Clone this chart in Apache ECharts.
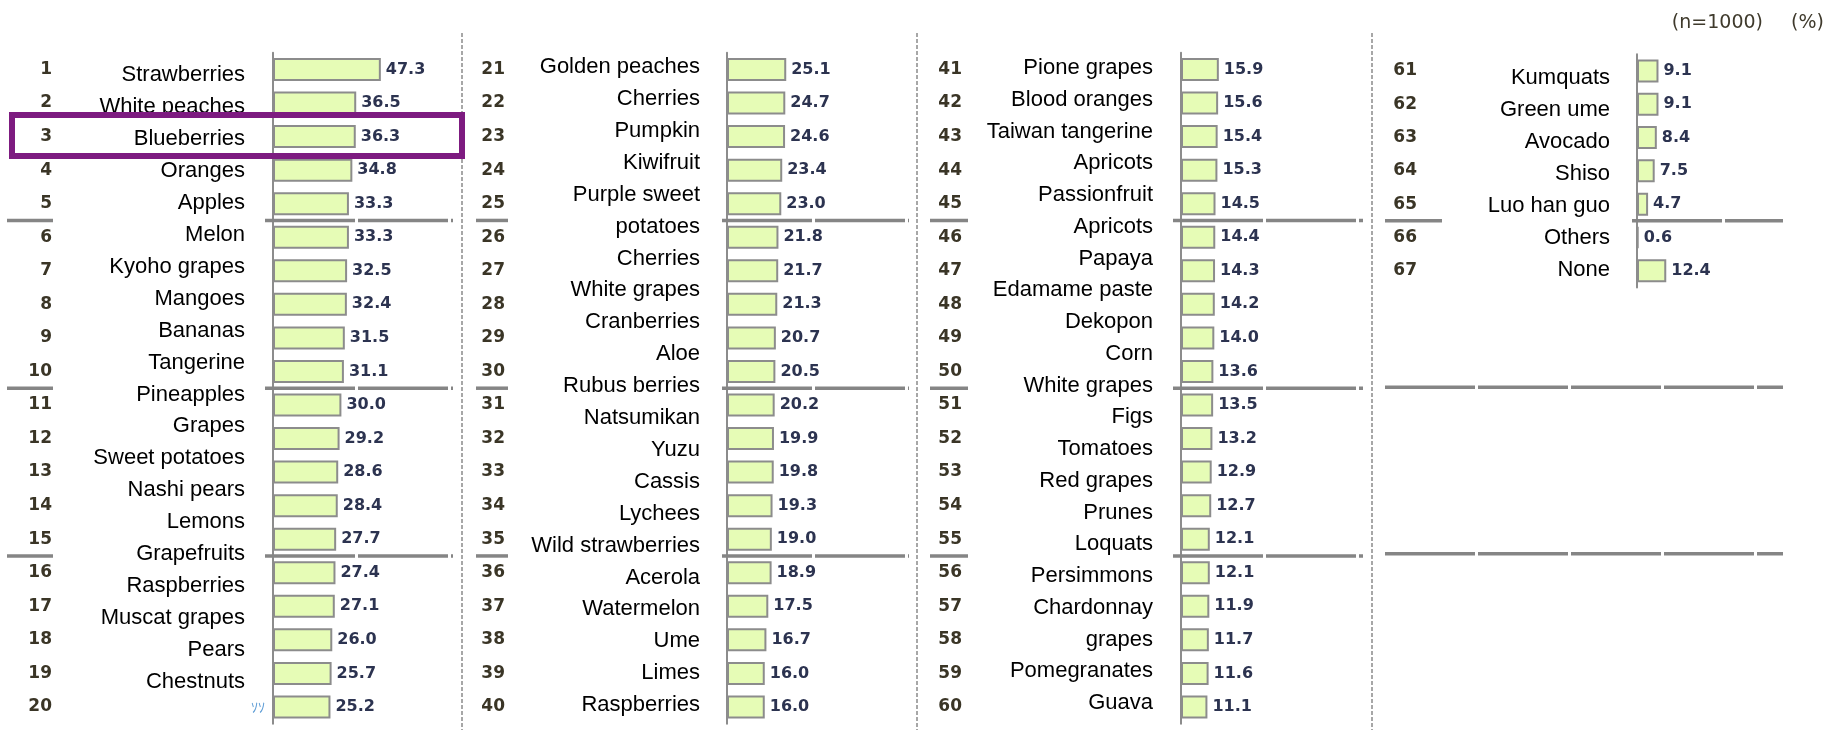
<!DOCTYPE html>
<html>
<head>
<meta charset="utf-8">
<title>Fruit ranking</title>
<script src="https://cdn.jsdelivr.net/npm/echarts@6/dist/echarts.min.js"></script>
<style>
  html, body { margin: 0; padding: 0; background: #fff; }
  #main { width: 1827px; height: 730px; }
</style>
</head>
<body>
<div id="main"></div>
<script>
// values (%) in rank order, one array per column
var values1 = [47.3, 36.5, 36.3, 34.8, 33.3, 33.3, 32.5, 32.4, 31.5, 31.1,
               30.0, 29.2, 28.6, 28.4, 27.7, 27.4, 27.1, 26.0, 25.7, 25.2];
var values2 = [25.1, 24.7, 24.6, 23.4, 23.0, 21.8, 21.7, 21.3, 20.7, 20.5,
               20.2, 19.9, 19.8, 19.3, 19.0, 18.9, 17.5, 16.7, 16.0, 16.0];
var values3 = [15.9, 15.6, 15.4, 15.3, 14.5, 14.4, 14.3, 14.2, 14.0, 13.6,
               13.5, 13.2, 12.9, 12.7, 12.1, 12.1, 11.9, 11.7, 11.6, 11.1];
var values4 = [9.1, 9.1, 8.4, 7.5, 4.7, 0.6, 12.4];

// name lines as they sit in the picture (they drift against the bars)
var names1 = ['Strawberries', 'White peaches', 'Blueberries', 'Oranges', 'Apples',
              'Melon', 'Kyoho grapes', 'Mangoes', 'Bananas', 'Tangerine',
              'Pineapples', 'Grapes', 'Sweet potatoes', 'Nashi pears', 'Lemons',
              'Grapefruits', 'Raspberries', 'Muscat grapes', 'Pears', 'Chestnuts'];
var names2 = ['Golden peaches', 'Cherries', 'Pumpkin', 'Kiwifruit', 'Purple sweet',
              'potatoes', 'Cherries', 'White grapes', 'Cranberries', 'Aloe',
              'Rubus berries', 'Natsumikan', 'Yuzu', 'Cassis', 'Lychees',
              'Wild strawberries', 'Acerola', 'Watermelon', 'Ume', 'Limes', 'Raspberries'];
var names3 = ['Pione grapes', 'Blood oranges', 'Taiwan tangerine', 'Apricots', 'Passionfruit',
              'Apricots', 'Papaya', 'Edamame paste', 'Dekopon', 'Corn',
              'White grapes', 'Figs', 'Tomatoes', 'Red grapes', 'Prunes',
              'Loquats', 'Persimmons', 'Chardonnay', 'grapes', 'Pomegranates', 'Guava'];
var names4 = ['Kumquats', 'Green ume', 'Avocado', 'Shiso', 'Luo han guo', 'Others', 'None'];

var firstRanks = [1, 21, 41, 61];
var sampleNote = '(n=1000)';
var unitNote = '(%)';
var strayText = 'ｿｿ';

var X_MAX = 60;

// narrow face if it is there, else plain Liberation Sans a bit smaller
var nameFont = (function () {
  var ctx = document.createElement('canvas').getContext('2d');
  ctx.font = '26px "Liberation Sans Narrow", monospace';
  var a = ctx.measureText('Wild strawberries').width;
  ctx.font = '26px monospace';
  var b = ctx.measureText('Wild strawberries').width;
  return a !== b ? { family: '"Liberation Sans Narrow"', size: 26 }
                 : { family: '"Liberation Sans", Arial', size: 22 };
})();

var columns = [
  { values: values1, names: names1, first: firstRanks[0], axisX: 273, rankRight: 52, labelRight: 245,
    rowTop: 52.7, rowPitch: 33.55, labelTop: 59, labelPitch: 31.95, scale: 2.28,
    sepLeft: [7, 53], sepRight: [265, 453] },
  { values: values2, names: names2, first: firstRanks[1], axisX: 727, rankRight: 505, labelRight: 700,
    rowTop: 52.7, rowPitch: 33.55, labelTop: 51.1, labelPitch: 31.9, scale: 2.36,
    sepLeft: [476, 508], sepRight: [722, 909] },
  { values: values3, names: names3, first: firstRanks[2], axisX: 1181, rankRight: 962, labelRight: 1153,
    rowTop: 52.7, rowPitch: 33.55, labelTop: 52.1, labelPitch: 31.75, scale: 2.38,
    sepLeft: [930, 968], sepRight: [1173, 1363] },
  { values: values4, names: names4, first: firstRanks[3], axisX: 1637, rankRight: 1417, labelRight: 1610,
    rowTop: 54.3, rowPitch: 33.3, labelTop: 62, labelPitch: 32, scale: 2.36,
    sepLeft: [1385, 1442], sepRight: [1632, 1783] }
];

var grid = [], xAxis = [], yAxis = [], series = [], graphic = [];

columns.forEach(function (c) {
  var n = c.values.length;
  var ranks = c.values.map(function (v, j) { return String(c.first + j); });

  // bars + rank numbers
  var gi = grid.length;
  grid.push({ left: c.axisX, top: c.rowTop, width: X_MAX * c.scale, height: n * c.rowPitch });
  xAxis.push({ gridIndex: gi, type: 'value', min: 0, max: X_MAX, show: false });
  yAxis.push({
    gridIndex: gi, type: 'category', data: ranks, inverse: true,
    axisLine: { show: true, lineStyle: { color: '#8c8c8c', width: 2 } },
    axisTick: { show: false },
    splitLine: { show: false },
    axisLabel: {
      interval: 0, margin: c.axisX - c.rankRight,
      fontFamily: 'DejaVu Sans', fontSize: 17, fontWeight: 'bold', color: '#3a3526'
    }
  });
  series.push({
    type: 'bar', xAxisIndex: gi, yAxisIndex: gi, data: c.values,
    barWidth: 23, silent: true,
    itemStyle: { color: '#e6fcb6', borderColor: '#8c8c8c', borderWidth: 2 },
    label: {
      show: true, position: 'right', distance: 5,
      formatter: function (p) { return p.value.toFixed(1); },
      fontFamily: 'DejaVu Sans', fontSize: 16, fontWeight: 'bold', color: '#2c3350'
    }
  });

  // the name column, on its own (slightly tighter) pitch
  var gj = grid.length;
  grid.push({ left: c.axisX, top: c.labelTop, width: 10, height: c.names.length * c.labelPitch });
  xAxis.push({ gridIndex: gj, type: 'value', show: false });
  yAxis.push({
    gridIndex: gj, type: 'category', data: c.names, inverse: true,
    axisLine: { show: false }, axisTick: { show: false }, splitLine: { show: false },
    axisLabel: {
      interval: 0, margin: c.axisX - c.labelRight,
      fontFamily: nameFont.family, fontSize: nameFont.size, color: '#000'
    }
  });

  // every-5 separators
  [5, 10, 15].forEach(function (k) {
    var y = c.rowTop + k * c.rowPitch;
    var segs = k < n ? [c.sepLeft, c.sepRight] : [[c.sepLeft[0], c.sepRight[1]]];
    segs.forEach(function (s) {
      graphic.push({
        type: 'line', silent: true, z: 5,
        shape: { x1: s[0], y1: y, x2: s[1], y2: y },
        style: { stroke: '#858585', lineWidth: 3.5, lineDash: [90, 3] }
      });
    });
  });
});

// dashed column dividers
[462, 917, 1372].forEach(function (x) {
  graphic.push({
    type: 'line', silent: true,
    shape: { x1: x, y1: 33, x2: x, y2: 730 },
    style: { stroke: '#8a8a8a', lineWidth: 1.5, lineDash: [4, 2] }
  });
});

// highlight box round rank 3
graphic.push({
  type: 'rect', silent: true, z: 10,
  shape: { x: 12, y: 115, width: 450, height: 41 },
  style: { fill: null, stroke: '#7d1b80', lineWidth: 6 }
});

graphic.push(
  { type: 'text', silent: true, x: 1763, y: 23,
    style: { text: sampleNote, align: 'right', verticalAlign: 'middle',
             font: '19px "DejaVu Sans"', fill: '#3f3a2c' } },
  { type: 'text', silent: true, x: 1824, y: 23,
    style: { text: unitNote, align: 'right', verticalAlign: 'middle',
             font: '19px "DejaVu Sans"', fill: '#3f3a2c' } },
  { type: 'text', silent: true, x: 265, y: 707,
    style: { text: strayText, align: 'right', verticalAlign: 'middle',
             font: '14px "Noto Sans CJK JP"', fill: '#5b9bd5' } }
);

var chart = echarts.init(document.getElementById('main'));
chart.setOption({
  animation: false,
  backgroundColor: '#fff',
  grid: grid,
  xAxis: xAxis,
  yAxis: yAxis,
  series: series,
  graphic: graphic
});
</script>
</body>
</html>
